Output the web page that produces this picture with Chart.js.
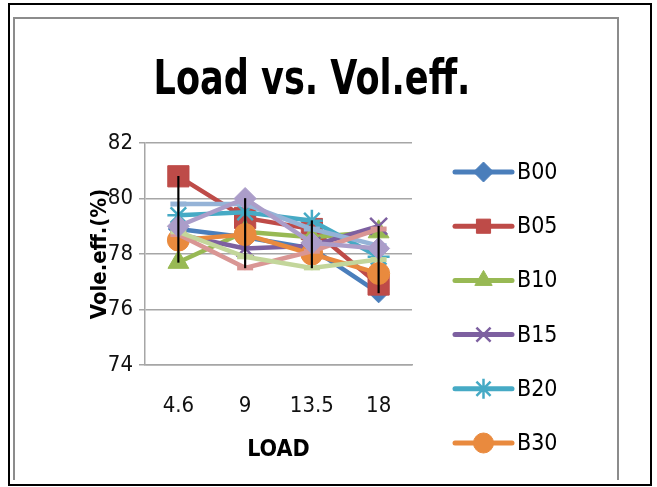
<!DOCTYPE html>
<html>
<head>
<meta charset="utf-8">
<script src="https://cdn.jsdelivr.net/npm/chart.js@4"></script>
<style>
  html, body { margin: 0; padding: 0; background: #fff; }
  #wrap { position: relative; width: 657px; height: 487px; overflow: hidden; }
  .outer { position: absolute; left: 8px; top: 3px; width: 640px; height: 479px; border: 2px solid #000; }
  .inner { position: absolute; left: 13px; top: 17px; width: 602px; height: 461px; border: 2px solid #8c8c8c; border-bottom: none; }
  canvas { position: absolute; left: 0; top: 0; }
</style>
</head>
<body>
<div id="wrap">
  <div class="outer"></div>
  <div class="inner"></div>
  <canvas id="chart" width="657" height="487"></canvas>
</div>
<script>
// --- data ---
const loads = ['4.6', '9', '13.5', '18'];
const yTicks = [74, 76, 78, 80, 82];

const b00 = [78.9, 78.6, 78.2, 76.6];
const b05 = [80.8, 79.3, 78.9, 76.9];
const b10 = [77.7, 78.8, 78.6, 78.8];
const b15 = [78.7, 78.2, 78.3, 79.0];
const b20 = [79.4, 79.5, 79.2, 77.9];
const b30 = [78.5, 78.7, 78.0, 77.3];
// series whose legend entries are cut off in the original
const b40 = [79.8, 79.8, 78.9, 78.3];
const b50 = [78.7, 77.5, 78.1, 78.9];
const b75 = [78.8, 77.9, 77.5, 77.8];
const b100 = [79.0, 80.0, 78.4, 78.2];

const seriesNames = ['B00', 'B05', 'B10', 'B15', 'B20', 'B30', 'B40', 'B50', 'B75', 'B100'];
const seriesData = [b00, b05, b10, b15, b20, b30, b40, b50, b75, b100];
const legendCount = 6;

// --- styles ---
const FONT = "'DejaVu Sans Condensed', 'Liberation Sans', sans-serif";
const colors = ['#4a7ebb', '#be4b48', '#98b954', '#7d60a0', '#46aac5', '#e98a3e',
                '#95b3d7', '#d99694', '#c3d69b', '#ab9dc9'];
const markers = ['rectRot', 'rect', 'triangle', 'crossRot', 'star', 'circle', 'line', 'line', 'line', 'rectRot'];
const radii = [10, 15, 12, 12, 11, 11, 8, 8, 8, 11];
const markerBorder = [1, 1, 1, 2.5, 2.5, 1, 5, 5, 5, 1];

// high-low lines: min / max of all series at each load
const highLow = loads.map((_, i) => {
    const vals = seriesData.map(s => s[i]);
    return [Math.min(...vals), Math.max(...vals)];
});

const datasets = seriesData.map((data, i) => ({
    type: 'line',
    label: seriesNames[i],
    data: data,
    borderColor: colors[i],
    backgroundColor: colors[i],
    borderWidth: 4.5,
    pointStyle: markers[i],
    pointRadius: radii[i],
    pointBorderWidth: markerBorder[i],
    pointBorderColor: colors[i],
    pointBackgroundColor: colors[i],
    tension: 0,
    order: 100 - i
}));

datasets.push({
    type: 'bar',
    label: 'hilo',
    data: highLow,
    backgroundColor: '#000',
    barThickness: 1.5,
    order: 0
});

// chart title drawn on the canvas (stretched a little, like the narrow original font)
const titlePlugin = {
    id: 'bigTitle',
    afterDraw(chart) {
        const ctx = chart.ctx;
        ctx.save();
        ctx.fillStyle = '#000';
        ctx.font = 'bold 39px ' + FONT;
        ctx.textAlign = 'center';
        ctx.textBaseline = 'alphabetic';
        ctx.translate(312, 94);
        ctx.scale(1, 1.25);
        ctx.fillText('Load vs. Vol.eff.', 0, 0);
        ctx.restore();
    }
};

// Excel style legend: line + marker + name
const legendPlugin = {
    id: 'sideLegend',
    afterDraw(chart) {
        const ctx = chart.ctx;
        const x0 = chart.chartArea.right + 43;
        ctx.save();
        for (let i = 0; i < legendCount; i++) {
            const y = 172 + i * 54.2;
            ctx.strokeStyle = colors[i];
            ctx.fillStyle = colors[i];
            ctx.lineWidth = 5;
            ctx.lineCap = 'round';
            ctx.beginPath();
            ctx.moveTo(x0, y);
            ctx.lineTo(x0 + 57, y);
            ctx.stroke();
            ctx.lineCap = 'butt';
            ctx.lineWidth = markerBorder[i];
            Chart.helpers.drawPoint(ctx, {
                pointStyle: markers[i],
                radius: Math.min(radii[i], 10),
                rotation: 0,
                borderWidth: markerBorder[i]
            }, x0 + 28.5, y);
            ctx.fillStyle = '#000';
            ctx.font = '23px ' + FONT;
            ctx.textAlign = 'left';
            ctx.textBaseline = 'middle';
            ctx.fillText(seriesNames[i], x0 + 62, y + 1);
        }
        ctx.restore();
    }
};

new Chart(document.getElementById('chart'), {
    type: 'line',
    data: { labels: loads, datasets: datasets },
    plugins: [titlePlugin, legendPlugin],
    options: {
        responsive: false,
        animation: false,
        layout: { padding: { left: 84, right: 245, top: 143, bottom: 20 } },
        plugins: {
            legend: { display: false },
            title: { display: false },
            tooltip: { enabled: false }
        },
        scales: {
            x: {
                offset: true,
                grid: { display: false, drawTicks: false },
                border: { display: true, color: '#a6a6a6', width: 1.5 },
                ticks: { color: '#111', font: { family: FONT, size: 22 }, padding: 28 },
                title: {
                    display: true, text: 'LOAD', color: '#000',
                    font: { family: FONT, size: 23, weight: 'bold' },
                    padding: { top: 0, bottom: 3 }
                },
                afterFit(scale) { scale.height = 102; }
            },
            y: {
                min: yTicks[0],
                max: yTicks[yTicks.length - 1],
                afterBuildTicks(scale) { scale.ticks = yTicks.map(v => ({ value: v })); },
                grid: { color: '#a6a6a6', lineWidth: 1.5, tickLength: 6 },
                border: { display: true, color: '#a6a6a6', width: 1.5 },
                ticks: { color: '#111', font: { family: FONT, size: 22 }, padding: 6 },
                title: {
                    display: true, text: 'Vole.eff.(%)', color: '#000',
                    font: { family: FONT, size: 22, weight: 'bold' },
                    padding: { top: 3, bottom: 0 }
                },
                afterFit(scale) { scale.width = 61; }
            }
        }
    }
});
</script>
</body>
</html>
